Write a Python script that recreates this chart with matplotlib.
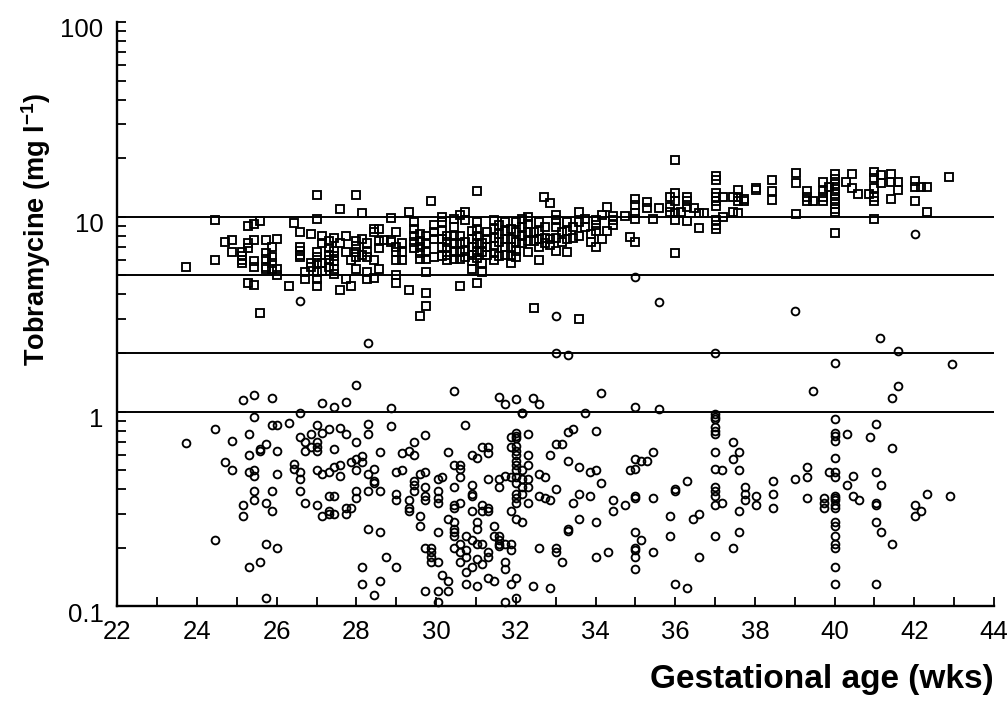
import matplotlib
matplotlib.use('Agg')
import matplotlib.pyplot as plt
import matplotlib.transforms as mtransforms
from matplotlib.ticker import LogLocator, NullFormatter

plt.rcParams['font.family'] = ['Liberation Sans', 'DejaVu Sans']
plt.rcParams['mathtext.fontset'] = 'custom'
plt.rcParams['mathtext.rm'] = 'Liberation Sans'
plt.rcParams['mathtext.bf'] = 'Liberation Sans:bold'

# peak levels (squares): gestational age column -> concentrations at that age
peak_cols = [23.73, 24.45, 24.7, 24.87, 25.13, 25.28, 25.43, 25.57, 25.72, 25.87,
             26.0, 26.3, 26.43, 26.58, 26.72, 26.87, 27.0, 27.14, 27.3, 27.43,
             27.58, 27.73, 27.86, 28.0, 28.15, 28.27, 28.44, 28.56, 28.7, 28.87,
             29.0, 29.15, 29.32, 29.45, 29.6, 29.75, 29.88, 29.94, 30.15, 30.28,
             30.45, 30.6, 30.73, 30.89, 31.02, 31.16, 31.28, 31.45, 31.59, 31.72,
             31.87, 32.01, 32.16, 32.31, 32.45, 32.58, 32.7, 32.73, 32.87, 33.0,
             33.17, 33.29, 33.44, 33.59, 33.73, 33.88, 34.0, 34.16, 34.3, 34.44,
             34.73, 34.87, 35.0, 35.3, 35.45, 35.6, 35.86, 36.0, 36.15, 36.3,
             36.47, 36.6, 36.72, 37.02, 37.2, 37.44, 37.58, 37.73, 38.02, 38.44,
             39.03, 39.3, 39.45, 39.72, 39.87, 40.0, 40.28, 40.43, 40.58, 40.87,
             41.0, 41.17, 41.42, 41.58, 42.02, 42.17, 42.31, 42.88]
peak_vals = [[5.5], [9.6, 6.0], [7.4], [7.6, 6.6], [6.6, 6.3, 6.0, 5.8],
             [9.0, 7.3, 6.9, 4.6], [9.2, 7.6, 5.9, 5.5, 4.45], [9.5, 3.2],
             [7.6, 6.5, 6.05, 5.5, 5.4], [7.0, 6.2, 5.8, 5.4],
             [7.7, 5.4, 5.0], [4.4], [9.3], [8.4, 7.0, 6.7, 6.4, 6.2], [5.2, 4.8],
             [8.2, 5.8, 5.5], [13.0, 9.7, 6.6, 6.2, 5.8, 5.2, 4.8, 4.4],
             [8.0, 7.3, 5.8, 5.3], [7.55, 6.9, 6.4, 6.0, 5.5], [7.8, 6.7, 6.3, 5.9, 5.4, 5.1],
             [11.0, 7.3, 4.2], [8.0, 6.6, 4.8], [6.0, 4.4], [13.0, 7.55, 7.1, 6.6, 6.2, 5.4],
             [10.4, 7.7, 6.4], [7.3, 6.6, 6.2, 5.2, 4.8], [8.7, 8.4, 6.0, 4.85],
             [8.7, 7.55, 6.9, 5.4], [7.6], [9.9, 7.6, 7.4],
             [8.4, 7.0, 6.6, 6.0, 5.0, 4.6], [7.3, 6.6, 6.0], [10.6, 4.2],
             [9.4, 8.7, 8.0, 7.4, 6.9], [8.2, 7.55, 7.0, 6.5, 6.05, 3.1],
             [8.0, 7.3, 6.6, 6.05, 5.2, 4.05, 3.5], [12.0], [9.1, 8.4, 7.7, 6.2],
             [10.0, 9.4, 8.5, 7.7, 7.0, 6.3], [8.0, 7.4, 6.9, 6.4, 6.0],
             [9.7, 8.9, 8.0, 7.3, 6.6, 6.05], [10.2, 8.0, 7.3, 6.6, 6.1, 4.4],
             [10.6, 9.6, 7.4, 6.7, 6.2], [8.5, 7.7, 7.0, 6.4, 5.9, 5.4],
             [13.5, 9.4, 8.7, 8.0, 7.3, 6.6, 6.15, 4.6], [7.3, 6.6, 5.8, 5.2],
             [8.4, 7.7, 7.0, 6.4], [9.6, 8.7, 7.8, 7.1, 6.5, 6.0], [9.1, 8.2, 7.4, 6.3],
             [9.4, 8.5, 7.7, 7.0, 6.4], [8.7, 7.7, 7.0, 6.3, 5.8], [9.4, 8.4, 7.4, 6.7, 6.2],
             [9.7, 8.9, 8.0, 7.3], [10.0, 9.2, 8.4, 7.55, 6.6], [8.4, 7.55, 3.4],
             [9.4, 8.5, 7.7, 7.0, 6.0], [12.6], [8.9, 7.8, 7.3], [11.8, 7.7, 7.2],
             [10.2, 9.6, 8.9, 7.8, 6.7], [8.4, 7.4], [9.4, 8.5, 7.7, 6.6], [8.9, 7.8],
             [10.6, 9.4, 8.0, 3.0], [9.7, 8.9], [8.2, 7.4], [9.6, 9.1, 8.5, 7.0],
             [10.2, 7.7], [11.2, 8.5], [10.1, 9.6, 9.1], [10.1], [7.9],
             [12.4, 11.5, 10.4, 9.7, 7.4], [11.9, 11.1], [9.7], [11.1], [12.7, 11.2, 10.6],
             [19.5, 13.3, 12.1, 10.4, 9.6, 6.5], [10.6], [12.7, 12.0, 11.2, 9.5], [11.1],
             [10.4, 8.8], [10.4], [16.2, 15.5, 13.3, 12.7, 12.0, 11.4, 9.6, 9.1, 8.7],
             [12.7, 10.0], [12.7, 10.6], [13.8, 12.7, 12.0, 10.4], [12.4, 12.0],
             [14.0, 13.8], [15.5, 13.6, 12.2], [16.7, 14.9, 10.3], [13.5, 12.7, 12.0],
             [12.0], [15.0, 13.6, 12.7, 12.0], [14.2],
             [16.6, 15.6, 14.7, 13.9, 13.1, 12.3, 11.6, 11.0, 10.6, 8.3],
             [15.1], [16.6, 14.0], [13.1], [13.1], [17.0, 15.9, 14.1, 12.7, 12.0, 9.8],
             [16.4, 14.9], [16.6, 15.0, 12.3], [15.0, 13.8], [15.2, 14.2, 12.0], [14.2],
             [14.3, 10.6], [16.0]]

# trough levels (circles)
trough_cols = [23.73, 24.45, 24.71, 24.87, 25.15, 25.3, 25.43, 25.58, 25.72, 25.87,
               26.0, 26.3, 26.43, 26.58, 26.72, 26.87, 27.0, 27.14, 27.3, 27.43,
               27.58, 27.73, 27.87, 28.0, 28.15, 28.28, 28.3, 28.44, 28.59, 28.73,
               28.87, 29.0, 29.15, 29.32, 29.45, 29.59, 29.73, 29.88, 30.04, 30.16,
               30.3, 30.45, 30.59, 30.72, 30.75, 30.89, 31.03, 31.16, 31.3, 31.45,
               31.58, 31.72, 31.87, 32.01, 32.16, 32.31, 32.44, 32.58, 32.73, 32.87,
               33.0, 33.16, 33.3, 33.44, 33.59, 33.73, 33.87, 34.0, 34.15, 34.32,
               34.45, 34.73, 34.87, 35.0, 35.15, 35.3, 35.45, 35.6, 35.87, 36.0,
               36.3, 36.45, 36.6, 37.0, 37.17, 37.44, 37.6, 37.74, 38.02, 38.45,
               39.0, 39.3, 39.45, 39.73, 39.87, 40.0, 40.31, 40.45, 40.6, 40.9,
               41.03, 41.15, 41.17, 41.45, 41.6, 42.02, 42.17, 42.31, 42.9, 42.95]
trough_vals = [[0.69], [0.81, 0.22], [0.55], [0.71, 0.5], [1.15, 0.33, 0.29],
               [0.77, 0.6, 0.49, 0.16], [1.22, 0.94, 0.5, 0.47, 0.39, 0.35], [0.64, 0.63, 0.17],
               [0.68, 0.34, 0.21, 0.11], [1.18, 0.85, 0.39, 0.31],
               [0.85, 0.63, 0.48, 0.2], [0.87], [0.54, 0.51], [3.7, 0.98, 0.74, 0.49, 0.45, 0.39],
               [0.7, 0.63, 0.34], [0.77, 0.66], [0.85, 0.7, 0.66, 0.63, 0.5, 0.33],
               [1.11, 0.78, 0.48, 0.29], [0.81, 0.49, 0.37, 0.31, 0.3], [1.06, 0.64, 0.52, 0.37, 0.3],
               [0.82, 0.53, 0.47], [1.12, 0.77, 0.32, 0.3], [0.55, 0.32],
               [1.37, 0.7, 0.57, 0.5, 0.39, 0.36], [0.59, 0.55, 0.16, 0.13], [2.25],
               [0.86, 0.77, 0.48, 0.39, 0.25], [0.51, 0.44, 0.43, 0.115], [0.62, 0.39, 0.24, 0.135],
               [0.18], [1.05, 0.84], [0.49, 0.38, 0.35, 0.16], [0.61, 0.5], [0.63, 0.35, 0.32, 0.31],
               [0.7, 0.6, 0.44, 0.42, 0.39], [0.48, 0.29, 0.26], [0.76, 0.49, 0.41, 0.37, 0.35, 0.2, 0.12],
               [0.2, 0.19, 0.18, 0.17], [0.45, 0.39, 0.36, 0.34, 0.24, 0.17, 0.12, 0.105],
               [0.46, 0.145], [0.62, 0.28, 0.135, 0.12],
               [1.27, 0.53, 0.41, 0.33, 0.32, 0.27, 0.25, 0.24, 0.23, 0.2],
               [0.53, 0.51, 0.46, 0.34, 0.21, 0.19, 0.17], [0.85], [0.23, 0.195, 0.18, 0.15, 0.13],
               [0.6, 0.42, 0.38, 0.37, 0.31, 0.22, 0.16], [0.58, 0.27, 0.25, 0.21, 0.175, 0.127],
               [0.66, 0.33, 0.31, 0.21, 0.165], [0.66, 0.61, 0.45, 0.32, 0.31, 0.19, 0.18, 0.14],
               [0.26, 0.23, 0.135], [1.19, 0.45, 0.41, 0.23, 0.22, 0.21, 0.205],
               [1.09, 0.47, 0.21, 0.17, 0.155, 0.105], [0.74, 0.66, 0.46, 0.31, 0.21, 0.195, 0.13],
               [1.16, 0.78, 0.75, 0.73, 0.67, 0.63, 0.6, 0.56, 0.53, 0.5, 0.46, 0.43, 0.38,
                0.36, 0.34, 0.28, 0.14, 0.11],
               [0.99, 0.98, 0.5, 0.45, 0.41, 0.38, 0.27], [0.77, 0.6, 0.53, 0.45, 0.41, 0.34],
               [1.18, 0.127], [1.09, 0.48, 0.37, 0.2], [0.46, 0.36], [0.6, 0.35, 0.125],
               [3.1, 2.0, 0.68, 0.4, 0.2, 0.19], [0.68, 0.17], [1.95, 0.79, 0.56, 0.25, 0.245],
               [0.81, 0.34], [0.52, 0.38, 0.28], [0.98], [0.49, 0.37], [0.8, 0.5, 0.27, 0.18],
               [1.25, 0.43], [0.19], [0.35, 0.31], [0.33], [0.5],
               [4.9, 1.06, 0.57, 0.51, 0.37, 0.36, 0.24, 0.2, 0.195, 0.18, 0.155],
               [0.56, 0.22], [0.56], [0.62, 0.36, 0.19], [3.65, 1.03], [0.29, 0.23],
               [0.4, 0.39, 0.13], [0.44, 0.125], [0.28], [0.3, 0.18],
               [2.0, 0.97, 0.94, 0.92, 0.83, 0.8, 0.77, 0.62, 0.51, 0.41, 0.39, 0.37, 0.33, 0.23],
               [0.5, 0.34], [0.7, 0.57, 0.2], [0.62, 0.5, 0.31, 0.24], [0.41, 0.38, 0.35],
               [0.37, 0.33], [0.44, 0.38, 0.32], [3.3, 0.45], [0.52, 0.46, 0.36], [1.28],
               [0.36, 0.34, 0.32], [0.49],
               [1.78, 0.92, 0.78, 0.75, 0.71, 0.58, 0.49, 0.46, 0.37, 0.36, 0.35, 0.33, 0.32,
                0.27, 0.26, 0.23, 0.21, 0.2, 0.16, 0.13],
               [0.77, 0.42], [0.47, 0.37], [0.35], [0.74], [0.86, 0.49, 0.34, 0.33, 0.27, 0.13],
               [2.4], [0.42, 0.24], [1.17, 0.65, 0.21], [2.05, 1.36], [8.2, 0.33, 0.29],
               [0.31], [0.38], [0.37], [1.75]]

ref_levels = [10, 5, 2, 1]
x_ticks = list(range(22, 45, 2))
y_ticks = [0.1, 1, 10, 100]
y_ticklabels = ['0.1', '1', '10', '100']

peak_x = [c for c, vs in zip(peak_cols, peak_vals) for v in vs]
peak_y = [v for c, vs in zip(peak_cols, peak_vals) for v in vs]
trough_x = [c for c, vs in zip(trough_cols, trough_vals) for v in vs]
trough_y = [v for c, vs in zip(trough_cols, trough_vals) for v in vs]

fig = plt.figure(figsize=(10.08, 7.04), dpi=100)
ax = fig.add_axes([0.1164, 0.1385, 0.8697, 0.8303])

for lv in ref_levels:
    ax.axhline(lv, color='black', lw=1.4, zorder=1)

ax.plot(peak_x, peak_y, ls='none', marker='s', ms=5.6, mfc='none', mec='black',
        mew=1.35, clip_on=False, zorder=3)
ax.plot(trough_x, trough_y, ls='none', marker='o', ms=5.6, mfc='none', mec='black',
        mew=1.35, clip_on=False, zorder=3)

ax.set_yscale('log')
ax.set_xlim(22, 44)
ax.set_ylim(0.1, 100)

ax.set_xticks(x_ticks)
ax.set_xticks(range(23, 44, 2), minor=True)
ax.set_yticks(y_ticks)
ax.set_yticklabels(y_ticklabels)
ax.yaxis.set_minor_locator(LogLocator(base=10, subs=range(2, 10)))
ax.yaxis.set_minor_formatter(NullFormatter())

ax.tick_params(which='both', direction='in', length=6.5, width=1.3, colors='black')
ax.tick_params(axis='x', labelsize=18.5, pad=10)
ax.tick_params(axis='y', labelsize=18.5, pad=10)
for lab in ax.get_yticklabels():
    lab.set_transform(lab.get_transform() +
                      mtransforms.ScaledTranslation(0, -4 / 72, fig.dpi_scale_trans))

for side in ['top', 'right']:
    ax.spines[side].set_visible(False)
for side in ['left', 'bottom']:
    ax.spines[side].set_linewidth(1.7)

ax.set_ylabel('Tobramycine (mg l$^{\\mathbf{-1}}$)', fontsize=19.5, fontweight='bold')
ax.yaxis.set_label_coords(-0.073, 0.645)
ax.set_xlabel('Gestational age (wks)', fontsize=24, fontweight='bold', ha='right', va='center')
ax.xaxis.set_label_coords(1.0, -0.125)

fig.savefig('out.png', dpi=100)
